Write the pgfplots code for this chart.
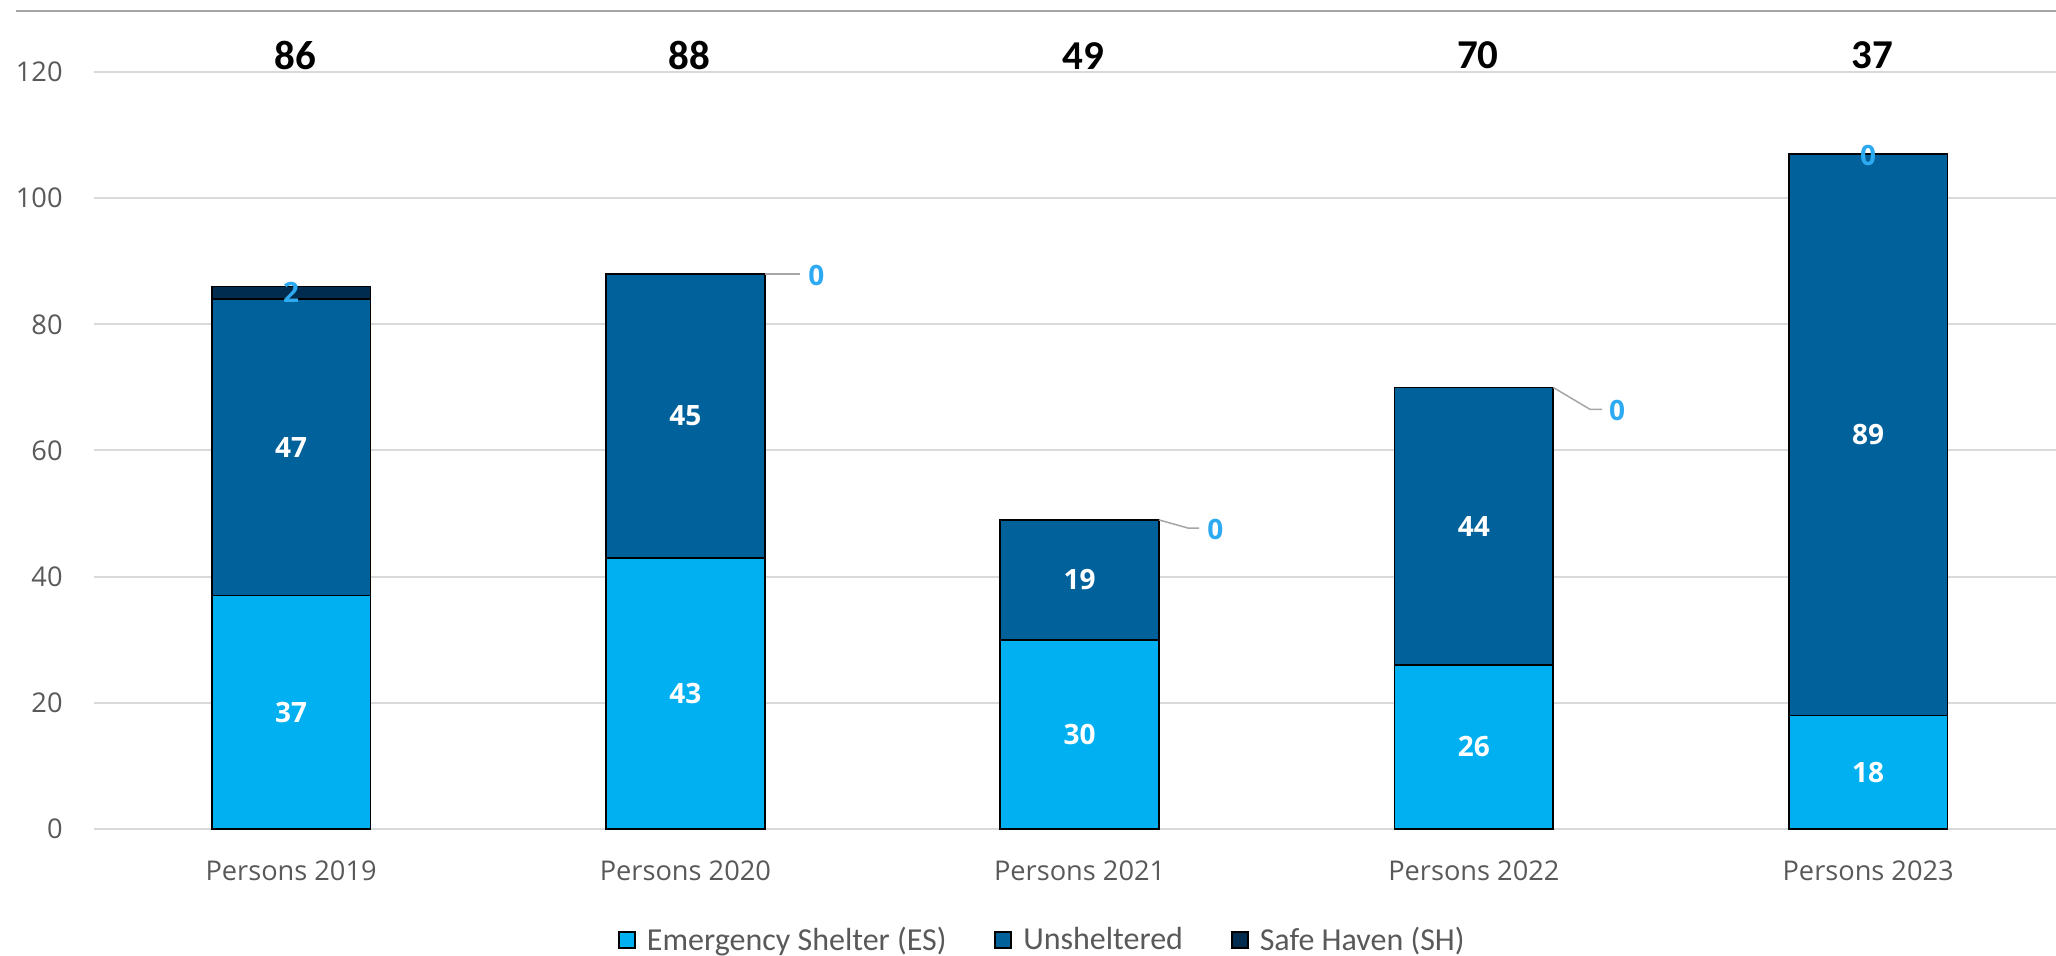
\documentclass[border=0pt]{standalone}
\usepackage{fontspec}
\setmainfont{Open Sans}
\newfontfamily\carlito{Carlito}
\usepackage{pgfplots}
\pgfplotsset{compat=1.18}
\definecolor{es}{HTML}{00B0F0}
\definecolor{uns}{HTML}{00619B}
\definecolor{sh}{HTML}{002D4F}
\definecolor{lbl}{HTML}{2DAAF2}
\definecolor{gridc}{HTML}{D9D9D9}
\definecolor{txt}{HTML}{595959}
\definecolor{lead}{HTML}{A6A6A6}
\pgfplotsset{common/.style={scale only axis, width=981pt, height=378.5pt,
  xmin=-0.5, xmax=4.4765, ymin=0, ymax=120, at={(0,0)}, anchor=south west, clip=false}}
\begin{document}
\begin{tikzpicture}
\useasboundingbox (-47pt,-63.5pt) rectangle (981pt,414.5pt);
\draw[color=lead, line width=1pt] (-39pt,409.2pt) -- (981pt,409.2pt);
\begin{axis}[common,
  ybar stacked, bar width=0.4023,
  axis line style={draw=none}, major tick length=0pt,
  ytick={0,20,...,120}, ymajorgrids, grid style={gridc, line width=1pt},
  xtick={0,1,2,3,4},
  xticklabels={Persons 2019,Persons 2020,Persons 2021,Persons 2022,Persons 2023},
  ticklabel style={font=\fontsize{13.6}{16}\selectfont, text=txt},
  yticklabel style={anchor=east, inner sep=0pt, xshift=-15.5pt},
  xticklabel style={anchor=north, inner sep=0pt, yshift=-15.5pt},
  /pgf/number format/assume math mode=true,
  legend columns=3,
  legend image code/.code={\draw[#1] (0pt,-4pt) rectangle (8pt,4pt);},
  legend style={at={(0.4839,-0.1466)}, anchor=center, draw=none, fill=none,
    font=\carlito\fontsize{16}{18}\selectfont, text=txt,
    /tikz/every odd column/.append style={column sep=3.5pt},
    /tikz/every even column/.append style={column sep=22pt}},
]
\addplot[fill=es, draw=black, line width=0.9pt] coordinates {(0,37) (1,43) (2,30) (3,26) (4,18)};
\addplot[fill=uns, draw=black, line width=0.9pt] coordinates {(0,47) (1,45) (2,19) (3,44) (4,89)};
\addplot[fill=sh, draw=black, line width=0.9pt] coordinates {(0,2) (1,0) (2,0) (3,0) (4,0)};
\legend{Emergency Shelter (ES),Unsheltered,Safe Haven (SH)}
\end{axis}
\begin{axis}[common, hide axis]
% leader lines
\addplot[color=lead, line width=0.75pt] coordinates {(1.201,88) (1.291,88)};
\addplot[color=lead, line width=0.75pt] coordinates {(2.201,49) (2.275,47.7) (2.303,47.7)};
\addplot[color=lead, line width=0.75pt] coordinates {(3.201,70) (3.295,66.5) (3.325,66.5)};
% ES labels
\addplot[draw=none, mark=none, nodes near coords, point meta=explicit symbolic,
  every node near coord/.append style={anchor=center, text=white, font=\bfseries\fontsize{14}{16}\selectfont}]
  coordinates {(0,18.5)[37] (1,21.5)[43] (2,15)[30] (3,13)[26] (4,9)[18]};
% Unsheltered labels
\addplot[draw=none, mark=none, nodes near coords, point meta=explicit symbolic,
  every node near coord/.append style={anchor=center, text=white, font=\bfseries\fontsize{14}{16}\selectfont}]
  coordinates {(0,60.5)[47] (1,65.5)[45] (2,39.5)[19] (3,48)[44] (4,62.5)[89]};
% Safe Haven labels
\addplot[draw=none, mark=none, nodes near coords, point meta=explicit symbolic,
  every node near coord/.append style={anchor=center, text=lbl, font=\bfseries\fontsize{14}{16}\selectfont}]
  coordinates {(0,85)[2] (1.332,87.8)[0] (2.344,47.5)[0] (3.363,66.4)[0] (4,106.8)[0]};
% totals
\addplot[draw=none, mark=none, nodes near coords, point meta=explicit symbolic,
  every node near coord/.append style={anchor=center, text=black, font=\carlito\bfseries\fontsize{20.5}{24}\selectfont}]
  coordinates {(0.01,122.6)[86] (1.01,122.6)[88] (2.01,122.6)[49] (3.01,122.6)[70] (4.01,122.6)[37]};
\end{axis}
\end{tikzpicture}
\end{document}
